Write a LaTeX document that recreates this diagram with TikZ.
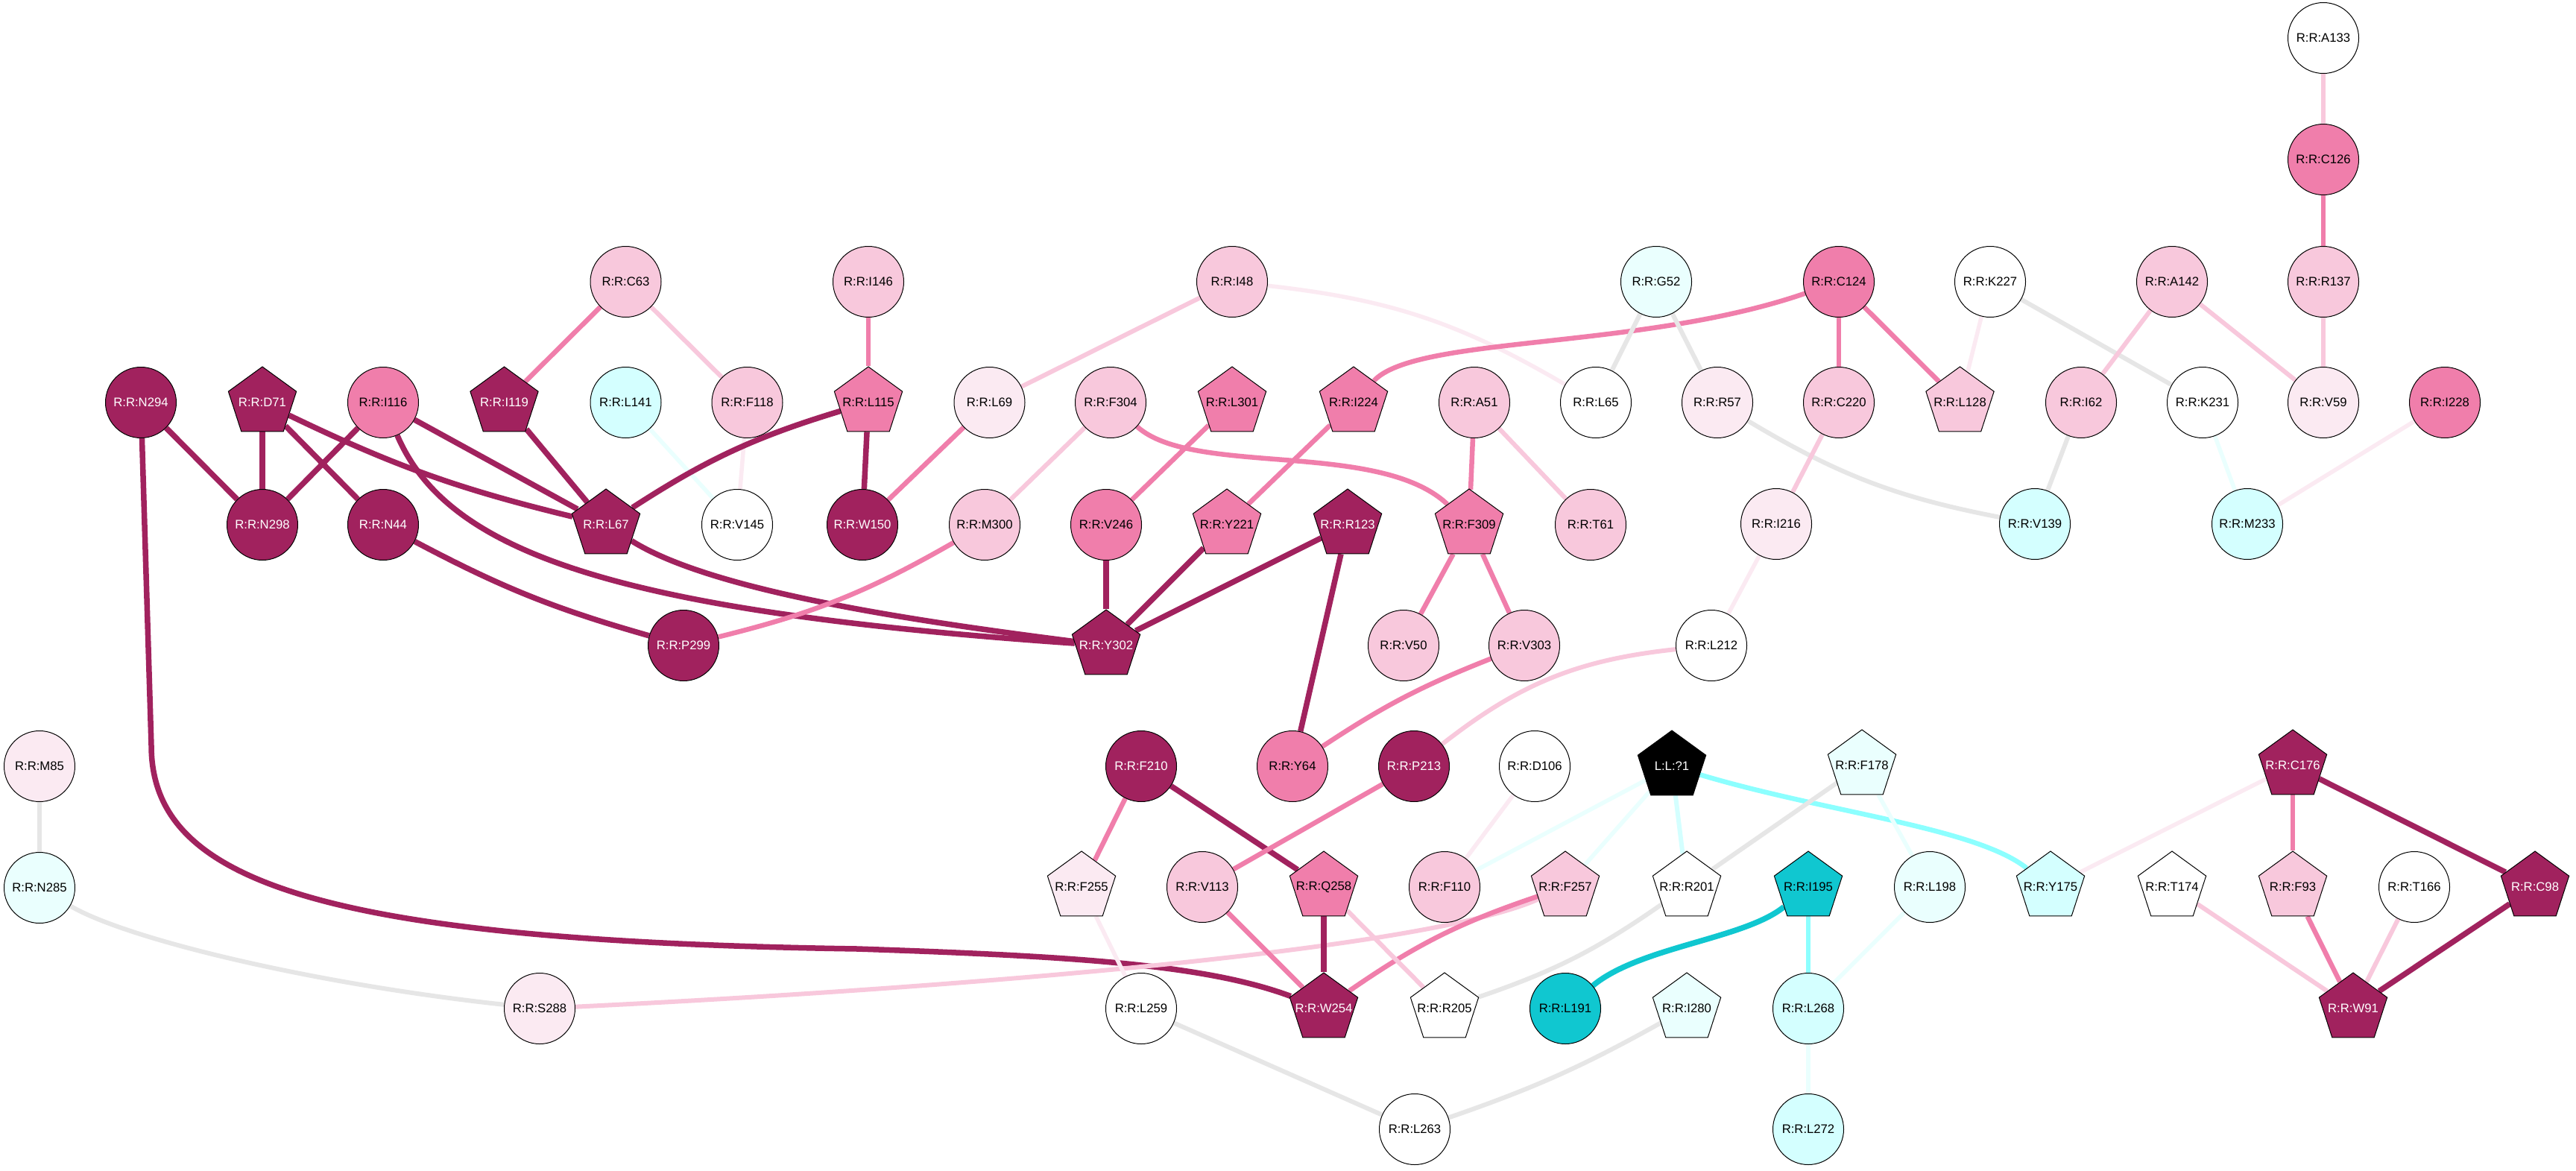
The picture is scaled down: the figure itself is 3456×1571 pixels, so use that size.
\documentclass[tikz,border=0pt]{standalone}
\usepackage{fontspec}
\setmainfont{Liberation Sans}
\usetikzlibrary{shapes.geometric}
\definecolor{cDark}{RGB}{161,34,94}
\definecolor{cMed}{RGB}{240,126,171}
\definecolor{cLight}{RGB}{248,200,220}
\definecolor{cVLight}{RGB}{251,234,242}
\definecolor{cCyanL}{RGB}{212,255,255}
\definecolor{cCyanVL}{RGB}{234,255,254}
\definecolor{cCyanD}{RGB}{16,199,208}
\definecolor{cCyanE}{RGB}{140,255,255}
\definecolor{cGray}{RGB}{230,230,230}
\newcommand\nlab[1]{\makebox[0pt]{#1}}
\pgfdeclarelayer{bg}
\pgfsetlayers{bg,main}
\tikzset{
  cn/.style={circle, draw=black, line width=0.2mm, minimum size=19mm, inner sep=0pt, font=\fontsize{9.5pt}{11pt}\selectfont, text=black},
  pn/.style={regular polygon, regular polygon sides=5, draw=black, line width=0.2mm, minimum size=19.2mm, inner sep=0pt, font=\fontsize{9.5pt}{11pt}\selectfont, text=black},
  ndk/.style={fill=cDark, text=white},
  nmd/.style={fill=cMed},
  nlt/.style={fill=cLight},
  nvl/.style={fill=cVLight},
  nwh/.style={fill=white},
  ncy/.style={fill=cCyanL},
  ncv/.style={fill=cCyanVL},
  ncd/.style={fill=cCyanD},
  nbk/.style={fill=black, text=white},
  edk/.style={draw=cDark, line width=1.5mm},
  emd/.style={draw=cMed, line width=1.3mm},
  elt/.style={draw=cLight, line width=1.2mm},
  evl/.style={draw=cVLight, line width=1.1mm},
  egr/.style={draw=cGray, line width=1.2mm},
  ecy/.style={draw=cCyanL, line width=1.2mm},
  ecv/.style={draw=cCyanVL, line width=1.1mm},
  ece/.style={draw=cCyanE, line width=1.3mm},
  ecd/.style={draw=cCyanD, line width=1.5mm}
}
\begin{document}
\begin{tikzpicture}[x=0.2mm, y=-0.2mm]
\useasboundingbox (0,0) rectangle (3456,1571);
% ---------------- circles
\node[cn,nwh] (A133) at (3117,51) {\nlab{R:R:A133}};
\node[cn,nmd] (C126) at (3117,214) {\nlab{R:R:C126}};
\node[cn,nlt] (C63) at (839.5,378) {\nlab{R:R:C63}};
\node[cn,nlt] (I146) at (1165,378) {\nlab{R:R:I146}};
\node[cn,nlt] (I48) at (1653,378) {\nlab{R:R:I48}};
\node[cn,ncv] (G52) at (2222,378) {\nlab{R:R:G52}};
\node[cn,nmd] (C124) at (2467,378) {\nlab{R:R:C124}};
\node[cn,nwh] (K227) at (2670,378) {\nlab{R:R:K227}};
\node[cn,nlt] (A142) at (2914,378) {\nlab{R:R:A142}};
\node[cn,nlt] (R137) at (3117,378) {\nlab{R:R:R137}};
\node[cn,ndk] (N294) at (189,540) {\nlab{R:R:N294}};
\node[cn,nmd] (I116) at (514,540) {\nlab{R:R:I116}};
\node[cn,ncy] (L141) at (839.5,540) {\nlab{R:R:L141}};
\node[cn,nlt] (F118) at (1002.5,540) {\nlab{R:R:F118}};
\node[cn,nvl] (L69) at (1327.5,540) {\nlab{R:R:L69}};
\node[cn,nlt] (F304) at (1490,540) {\nlab{R:R:F304}};
\node[cn,nlt] (A51) at (1978,540) {\nlab{R:R:A51}};
\node[cn,nwh] (L65) at (2141,540) {\nlab{R:R:L65}};
\node[cn,nvl] (R57) at (2304,540) {\nlab{R:R:R57}};
\node[cn,nlt] (C220) at (2467,540) {\nlab{R:R:C220}};
\node[cn,nlt] (I62) at (2792,540) {\nlab{R:R:I62}};
\node[cn,nwh] (K231) at (2955,540) {\nlab{R:R:K231}};
\node[cn,nvl] (V59) at (3117,540) {\nlab{R:R:V59}};
\node[cn,nmd] (I228) at (3280,540) {\nlab{R:R:I228}};
\node[cn,ndk] (N298) at (352,704) {\nlab{R:R:N298}};
\node[cn,ndk] (N44) at (514,704) {\nlab{R:R:N44}};
\node[cn,nwh] (V145) at (989,704) {\nlab{R:R:V145}};
\node[cn,ndk] (W150) at (1157,704) {\nlab{R:R:W150}};
\node[cn,nlt] (M300) at (1321,704) {\nlab{R:R:M300}};
\node[cn,nmd] (V246) at (1484,704) {\nlab{R:R:V246}};
\node[cn,nlt] (T61) at (2134,704) {\nlab{R:R:T61}};
\node[cn,nvl] (I216) at (2383,703) {\nlab{R:R:I216}};
\node[cn,ncy] (V139) at (2730,703) {\nlab{R:R:V139}};
\node[cn,ncy] (M233) at (3015,703) {\nlab{R:R:M233}};
\node[cn,ndk] (P299) at (917,866) {\nlab{R:R:P299}};
\node[cn,nlt] (V50) at (1883,866) {\nlab{R:R:V50}};
\node[cn,nlt] (V303) at (2045,866) {\nlab{R:R:V303}};
\node[cn,nwh] (L212) at (2296,866) {\nlab{R:R:L212}};
\node[cn,nvl] (M85) at (53,1028) {\nlab{R:R:M85}};
\node[cn,ndk] (F210) at (1531,1028) {\nlab{R:R:F210}};
\node[cn,nmd] (Y64) at (1734,1028) {\nlab{R:R:Y64}};
\node[cn,ndk] (P213) at (1897,1028) {\nlab{R:R:P213}};
\node[cn,nwh] (D106) at (2059,1028) {\nlab{R:R:D106}};
\node[cn,ncv] (N285) at (53,1191) {\nlab{R:R:N285}};
\node[cn,nlt] (V113) at (1613,1190) {\nlab{R:R:V113}};
\node[cn,nlt] (F110) at (1938,1190) {\nlab{R:R:F110}};
\node[cn,ncv] (L198) at (2589,1190) {\nlab{R:R:L198}};
\node[cn,nwh] (T166) at (3239,1190) {\nlab{R:R:T166}};
\node[cn,nvl] (S288) at (724,1353) {\nlab{R:R:S288}};
\node[cn,nwh] (L259) at (1531,1353) {\nlab{R:R:L259}};
\node[cn,ncd] (L191) at (2100,1353) {\nlab{R:R:L191}};
\node[cn,ncy] (L268) at (2426,1353) {\nlab{R:R:L268}};
\node[cn,nwh] (L263) at (1898,1515) {\nlab{R:R:L263}};
\node[cn,ncy] (L272) at (2426,1515) {\nlab{R:R:L272}};
% ---------------- pentagons
\node[pn,ndk] (D71) at (352,540) {\nlab{R:R:D71}};
\node[pn,ndk] (I119) at (676.5,540) {\nlab{R:R:I119}};
\node[pn,nmd] (L115) at (1165,540) {\nlab{R:R:L115}};
\node[pn,nmd] (L301) at (1653,540) {\nlab{R:R:L301}};
\node[pn,nmd] (I224) at (1816,540) {\nlab{R:R:I224}};
\node[pn,nlt] (L128) at (2629.5,540) {\nlab{R:R:L128}};
\node[pn,ndk] (L67) at (813,704) {\nlab{R:R:L67}};
\node[pn,nmd] (Y221) at (1646,704) {\nlab{R:R:Y221}};
\node[pn,ndk] (R123) at (1808,704) {\nlab{R:R:R123}};
\node[pn,nmd] (F309) at (1971,704) {\nlab{R:R:F309}};
\node[pn,ndk] (Y302) at (1484,866) {\nlab{R:R:Y302}};
\node[pn,nbk] (L1) at (2243,1028) {\nlab{L:L:?1}};
\node[pn,ncv] (F178) at (2498,1027) {\nlab{R:R:F178}};
\node[pn,ndk] (C176) at (3076,1027) {\nlab{R:R:C176}};
\node[pn,nvl] (F255) at (1451,1190) {\nlab{R:R:F255}};
\node[pn,nmd] (Q258) at (1776,1190) {\nlab{R:R:Q258}};
\node[pn,nlt] (F257) at (2100,1190) {\nlab{R:R:F257}};
\node[pn,nwh] (R201) at (2263,1190) {\nlab{R:R:R201}};
\node[pn,ncd] (I195) at (2426,1190) {\nlab{R:R:I195}};
\node[pn,ncy] (Y175) at (2751,1190) {\nlab{R:R:Y175}};
\node[pn,nwh] (T174) at (2914,1190) {\nlab{R:R:T174}};
\node[pn,nlt] (F93) at (3076,1190) {\nlab{R:R:F93}};
\node[pn,ndk] (C98) at (3401,1190) {\nlab{R:R:C98}};
\node[pn,ndk] (W254) at (1776,1353) {\nlab{R:R:W254}};
\node[pn,nwh] (R205) at (1938,1353) {\nlab{R:R:R205}};
\node[pn,ncv] (I280) at (2263,1353) {\nlab{R:R:I280}};
\node[pn,ndk] (W91) at (3157,1353) {\nlab{R:R:W91}};
% ---------------- edges
\begin{pgfonlayer}{bg}
\fill[white] (0,0) rectangle (3456,1571);
\draw[emd] (C63) -- (I119);
\draw[elt] (C63) -- (F118);
\draw[emd] (I146) -- (L115);
\draw[edk] (N294) -- (N298);
\draw[edk] (N294) -- (203,1000) .. controls (203,1180) and (420,1262) .. (1150,1273) .. controls (1450,1283) and (1620,1295) .. (W254);
\draw[edk] (D71) -- (N298);
\draw[edk] (D71) -- (N44);
\draw[edk] (D71) to[bend right=6] (L67);
\draw[edk] (I116) -- (N298);
\draw[edk] (I116) -- (L67);
\draw[edk] (I116) .. controls (600,740) and (820,820) .. (Y302);
\draw[edk] (L67) .. controls (950,790) and (1200,830) .. (Y302);
\draw[edk] (I119) -- (L67);
\draw[ecv] (L141) -- (V145);
\draw[evl] (F118) -- (V145);
\draw[edk] (L115) to[bend right=8] (L67);
\draw[edk] (L115) -- (W150);
\draw[elt] (I48) -- (L69);
\draw[evl] (I48) to[bend left=12] (L65);
\draw[emd] (L69) -- (W150);
\draw[elt] (F304) -- (M300);
\draw[emd] (F304) .. controls (1600,640) and (1850,590) .. (F309);
\draw[emd] (L301) -- (V246);
\draw[emd] (I224) -- (Y221);
\draw[emd] (I224) .. controls (1900,450) and (2200,470) .. (C124);
\draw[emd] (A51) -- (F309);
\draw[elt] (A51) -- (T61);
\draw[edk] (Y221) -- (Y302);
\draw[edk] (V246) -- (Y302);
\draw[edk] (R123) -- (Y302);
\draw[edk] (R123) -- (Y64);
\draw[emd] (F309) -- (V50);
\draw[emd] (F309) -- (V303);
\draw[emd] (M300) to[bend left=8] (P299);
\draw[edk] (N44) to[bend right=6] (P299);
\draw[egr] (G52) -- (L65);
\draw[egr] (G52) -- (R57);
\draw[emd] (C124) -- (C220);
\draw[emd] (C124) -- (L128);
\draw[evl] (K227) -- (L128);
\draw[egr] (K227) -- (K231);
\draw[elt] (A142) -- (I62);
\draw[elt] (A142) -- (V59);
\draw[elt] (R137) -- (V59);
\draw[emd] (C126) -- (R137);
\draw[elt] (A133) -- (C126);
\draw[egr] (R57) to[bend right=10] (V139);
\draw[elt] (C220) -- (I216);
\draw[egr] (I62) -- (V139);
\draw[ecv] (K231) -- (M233);
\draw[evl] (I228) -- (M233);
\draw[evl] (I216) -- (L212);
\draw[elt] (L212) to[bend right=16] (P213);
\draw[emd] (V303) to[bend right=6] (Y64);
\draw[emd] (F210) -- (F255);
\draw[edk] (F210) -- (Q258);
\draw[emd] (P213) -- (V113);
\draw[evl] (D106) -- (F110);
\draw[ecv] (L1) -- (F110);
\draw[ecv] (L1) -- (F257);
\draw[ecy] (L1) -- (R201);
\draw[ece] (L1) .. controls (2450,1090) and (2650,1110) .. (Y175);
\draw[egr] (F178) -- (R201);
\draw[egr] (R201) to[bend left=8] (R205);
\draw[ecv] (F178) -- (L198);
\draw[ecd] (I195) .. controls (2340,1260) and (2200,1270) .. (L191);
\draw[ece] (I195) -- (L268);
\draw[ecv] (L198) -- (L268);
\draw[ecv] (L268) -- (L272);
\draw[evl] (C176) -- (Y175);
\draw[emd] (C176) -- (F93);
\draw[edk] (C176) -- (C98);
\draw[elt] (T174) -- (W91);
\draw[emd] (F93) -- (W91);
\draw[elt] (T166) -- (W91);
\draw[edk] (C98) -- (W91);
\draw[egr] (M85) -- (N285);
\draw[egr] (N285) .. controls (170,1260) and (420,1320) .. (S288);
\draw[elt] (S288) .. controls (1200,1330) and (1900,1280) .. (F257);
\draw[emd] (F257) to[bend right=8] (W254);
\draw[emd] (V113) -- (W254);
\draw[edk] (Q258) -- (W254);
\draw[elt] (Q258) -- (R205);
\draw[evl] (F255) -- (L259);
\draw[egr] (L259) -- (L263);
\draw[egr] (I280) to[bend left=5] (L263);
\end{pgfonlayer}
\end{tikzpicture}
\end{document}
